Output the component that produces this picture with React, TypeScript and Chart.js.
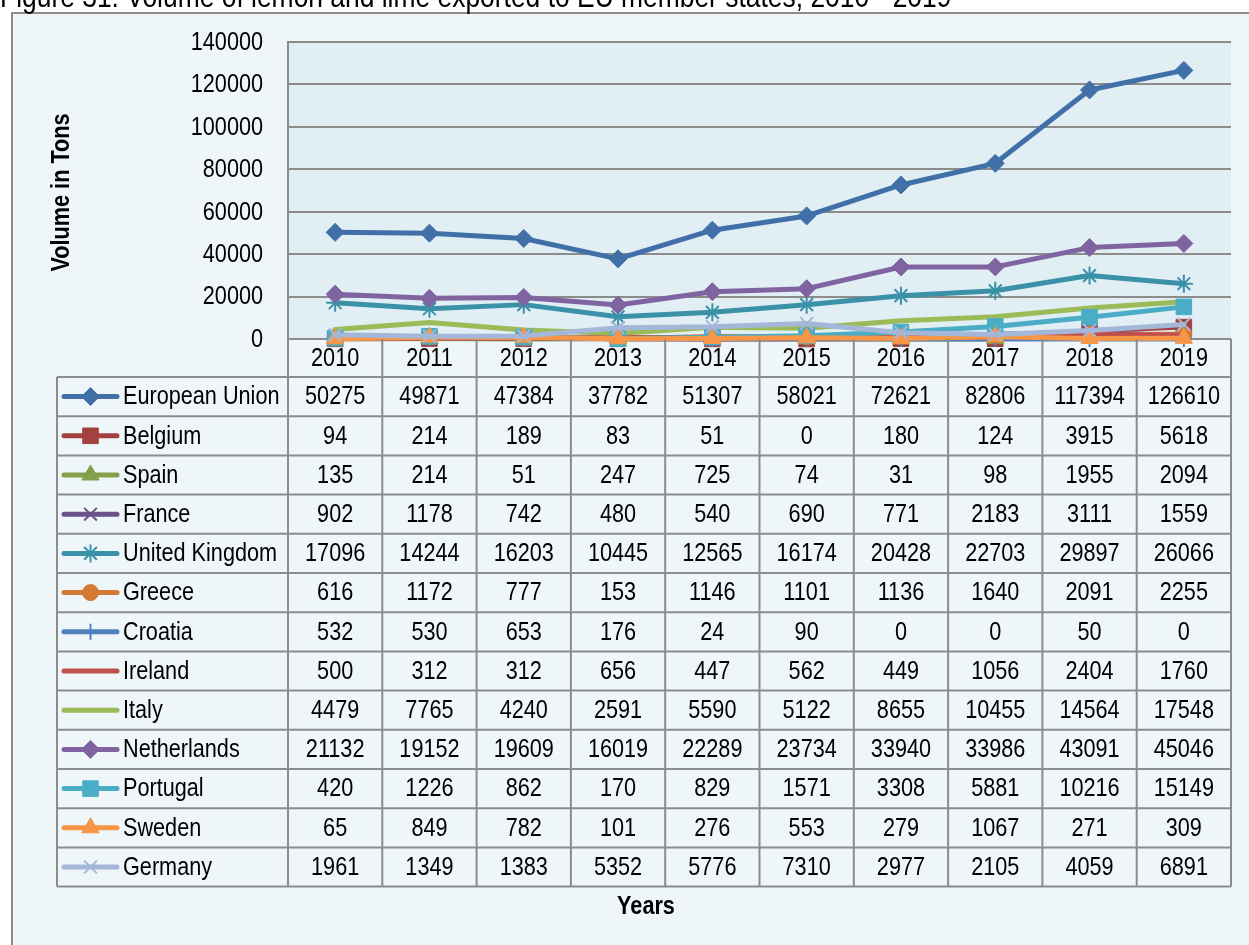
import React, { useEffect, useRef } from 'react';
import { Chart, registerables } from 'chart.js';
import { drawPoint } from 'chart.js/helpers';

Chart.register(...registerables);

// ---------- data ----------
const years = ['2010', '2011', '2012', '2013', '2014', '2015', '2016', '2017', '2018', '2019'];

const europeanUnion = [50275, 49871, 47384, 37782, 51307, 58021, 72621, 82806, 117394, 126610];
const belgium = [94, 214, 189, 83, 51, 0, 180, 124, 3915, 5618];
const spain = [135, 214, 51, 247, 725, 74, 31, 98, 1955, 2094];
const france = [902, 1178, 742, 480, 540, 690, 771, 2183, 3111, 1559];
const unitedKingdom = [17096, 14244, 16203, 10445, 12565, 16174, 20428, 22703, 29897, 26066];
const greece = [616, 1172, 777, 153, 1146, 1101, 1136, 1640, 2091, 2255];
const croatia = [532, 530, 653, 176, 24, 90, 0, 0, 50, 0];
const ireland = [500, 312, 312, 656, 447, 562, 449, 1056, 2404, 1760];
const italy = [4479, 7765, 4240, 2591, 5590, 5122, 8655, 10455, 14564, 17548];
const netherlands = [21132, 19152, 19609, 16019, 22289, 23734, 33940, 33986, 43091, 45046];
const portugal = [420, 1226, 862, 170, 829, 1571, 3308, 5881, 10216, 15149];
const sweden = [65, 849, 782, 101, 276, 553, 279, 1067, 271, 309];
const germany = [1961, 1349, 1383, 5352, 5776, 7310, 2977, 2105, 4059, 6891];

const seriesNames = [
  'European Union', 'Belgium', 'Spain', 'France', 'United Kingdom', 'Greece', 'Croatia',
  'Ireland', 'Italy', 'Netherlands', 'Portugal', 'Sweden', 'Germany',
];
const seriesValues = [
  europeanUnion, belgium, spain, france, unitedKingdom, greece, croatia,
  ireland, italy, netherlands, portugal, sweden, germany,
];

const yMin = 0;
const yMax = 140000;
const yStep = 20000;

const titleText = 'Figure 31: Volume of lemon and lime exported to EU member states, 2010 - 2019';
const yAxisTitle = 'Volume in Tons';
const xAxisTitle = 'Years';

// ---------- styles ----------
const seriesColors = [
  '#416FA8', '#A4403D', '#84A04A', '#6B5389', '#3A91A8', '#D27A33', '#4F81BD',
  '#C0504D', '#9BBB59', '#8064A2', '#4BACC6', '#F79646', '#A5B7D8',
];
const seriesMarkers: (string | false)[] = [
  'rectRot', 'rect', 'triangle', 'crossRot', 'star', 'circle', 'cross',
  false, false, 'rectRot', 'rect', 'triangle', 'crossRot',
];
const markerRadius: Record<string, number> = {
  rectRot: 9, rect: 11, triangle: 10, crossRot: 9, star: 9, circle: 8, cross: 8,
};

const FONT = "'Liberation Sans', Arial, sans-serif";
const FONT_SIZE = 25;
const SX = 0.866; // horizontal squeeze of the reference lettering
const GRID = '#8C8C8C';
const OUTER_BG = '#EEF6F9';
const PLOT_BG = '#E1EEF4';

const W = 1249;
const H = 945;
const FRAME_LEFT = 12;
const FRAME_TOP = 13;
const HEADER_H = 38;
const ROW_H = 39.2;
const TABLE_LEFT = 57;
const KEY_X0 = 64;
const KEY_X1 = 117;
const LABEL_X = 123;
const TICK_RIGHT = 263;

const isCross = (m: string | false) => m === 'crossRot' || m === 'star' || m === 'cross';

function text(ctx: CanvasRenderingContext2D, s: string, x: number, y: number, align: CanvasTextAlign, rot = 0) {
  ctx.save();
  ctx.translate(x, y);
  if (rot) ctx.rotate(rot);
  ctx.scale(SX, 1);
  ctx.textAlign = align;
  ctx.fillText(s, 0, 0);
  ctx.restore();
}

function drawMarker(ctx: CanvasRenderingContext2D, marker: string | false, color: string, x: number, y: number) {
  if (!marker) return;
  ctx.save();
  ctx.fillStyle = color;
  ctx.strokeStyle = color;
  ctx.lineWidth = isCross(marker) ? 2 : 1;
  drawPoint(ctx, { pointStyle: marker, rotation: 0, radius: markerRadius[marker], borderWidth: ctx.lineWidth } as any, x, y);
  ctx.restore();
}

const framePlugin = {
  id: 'frameAndTable',
  beforeDraw(chart: any) {
    const { ctx, chartArea } = chart;
    ctx.save();
    ctx.fillStyle = '#FFFFFF';
    ctx.fillRect(0, 0, W, H);
    ctx.fillStyle = OUTER_BG;
    ctx.fillRect(FRAME_LEFT, FRAME_TOP, W - FRAME_LEFT + 10, H - FRAME_TOP + 10);
    ctx.strokeStyle = GRID;
    ctx.lineWidth = 2;
    ctx.beginPath();
    ctx.moveTo(FRAME_LEFT, H + 5);
    ctx.lineTo(FRAME_LEFT, FRAME_TOP);
    ctx.lineTo(W + 5, FRAME_TOP);
    ctx.stroke();
    ctx.fillStyle = PLOT_BG;
    ctx.fillRect(chartArea.left, chartArea.top, chartArea.right - chartArea.left, chartArea.bottom - chartArea.top);

    // title (top part cropped like the reference)
    ctx.fillStyle = '#000000';
    ctx.font = `30.5px ${FONT}`;
    ctx.textBaseline = 'alphabetic';
    text(ctx, titleText, 0, 7, 'left');
    ctx.restore();
  },
  afterDraw(chart: any) {
    const { ctx, chartArea, scales } = chart;
    const x = scales.x;
    const y = scales.y;
    const n = years.length;
    const colW = (chartArea.right - chartArea.left) / n;
    const headerTop = chartArea.bottom;
    const headerBottom = headerTop + HEADER_H;
    const tableBottom = headerBottom + ROW_H * seriesNames.length;

    ctx.save();
    ctx.strokeStyle = GRID;
    ctx.lineWidth = 2;
    ctx.beginPath();
    for (let k = 0; k <= n; k++) {
      const cx = chartArea.left + k * colW;
      ctx.moveTo(cx, headerTop);
      ctx.lineTo(cx, tableBottom);
    }
    ctx.moveTo(TABLE_LEFT, headerBottom);
    ctx.lineTo(TABLE_LEFT, tableBottom);
    for (let i = 0; i <= seriesNames.length; i++) {
      const ry = headerBottom + i * ROW_H;
      ctx.moveTo(TABLE_LEFT, ry);
      ctx.lineTo(chartArea.right, ry);
    }
    ctx.stroke();

    ctx.fillStyle = '#000000';
    ctx.font = `${FONT_SIZE}px ${FONT}`;
    ctx.textBaseline = 'middle';

    // y tick labels from the library's scale
    y.ticks.forEach((t: any) => {
      text(ctx, String(t.value), TICK_RIGHT, y.getPixelForValue(t.value) + 1, 'right');
    });

    years.forEach((yr, i) => {
      text(ctx, yr, x.getPixelForValue(i), headerTop + HEADER_H / 2 + 1, 'center');
    });

    seriesNames.forEach((name, r) => {
      const cy = headerBottom + r * ROW_H + ROW_H / 2;
      const color = seriesColors[r];
      ctx.save();
      ctx.strokeStyle = color;
      ctx.lineWidth = 5;
      ctx.lineCap = 'round';
      ctx.beginPath();
      ctx.moveTo(KEY_X0, cy);
      ctx.lineTo(KEY_X1, cy);
      ctx.stroke();
      ctx.restore();
      drawMarker(ctx, seriesMarkers[r], color, (KEY_X0 + KEY_X1) / 2, cy);

      ctx.fillStyle = '#000000';
      text(ctx, name, LABEL_X, cy + 1, 'left');
      seriesValues[r].forEach((v, i) => {
        text(ctx, String(v), x.getPixelForValue(i), cy + 1, 'center');
      });
    });

    ctx.font = `bold ${FONT_SIZE}px ${FONT}`;
    text(ctx, xAxisTitle, (TABLE_LEFT + chartArea.right) / 2 + 2, tableBottom + 21, 'center');
    text(ctx, yAxisTitle, 62, (chartArea.top + chartArea.bottom) / 2 + 2, 'center', -Math.PI / 2);
    ctx.restore();
  },
};

export default function App() {
  const ref = useRef<HTMLCanvasElement | null>(null);

  useEffect(() => {
    if (!ref.current) return;
    const datasets = seriesNames.map((name, i) => {
      const marker = seriesMarkers[i];
      return {
        label: name,
        data: seriesValues[i],
        borderColor: seriesColors[i],
        backgroundColor: seriesColors[i],
        borderWidth: 5,
        borderJoinStyle: 'round' as const,
        borderCapStyle: 'round' as const,
        tension: 0,
        pointStyle: marker || 'circle',
        pointRadius: marker ? markerRadius[marker] : 0,
        pointHoverRadius: marker ? markerRadius[marker] : 0,
        pointBackgroundColor: seriesColors[i],
        pointBorderColor: seriesColors[i],
        pointBorderWidth: marker && isCross(marker) ? 2 : 1,
        clip: false as const,
        order: -i,
      };
    });

    const chart = new Chart(ref.current, {
      type: 'line',
      data: { labels: years, datasets },
      options: {
        responsive: false,
        animation: false,
        devicePixelRatio: 1,
        layout: { padding: { left: 0, top: 42, right: 18, bottom: H - 339 } },
        plugins: { legend: { display: false }, tooltip: { enabled: false }, title: { display: false } },
        scales: {
          x: { type: 'category', display: false, offset: true },
          y: {
            min: yMin,
            max: yMax,
            afterFit: (scale: any) => { scale.width = 288; },
            ticks: {
              stepSize: yStep,
              display: false,
              callback: (v: any) => String(v),
            },
            grid: { color: GRID, lineWidth: 2, drawTicks: false },
            border: { display: true, color: GRID, width: 2 },
          },
        },
      },
      plugins: [framePlugin],
    });
    return () => chart.destroy();
  }, []);

  return (
    <div style={{ position: 'absolute', left: 0, top: 0, width: W, height: H }}>
      <canvas ref={ref} width={W} height={H} style={{ display: 'block' }} />
    </div>
  );
}
